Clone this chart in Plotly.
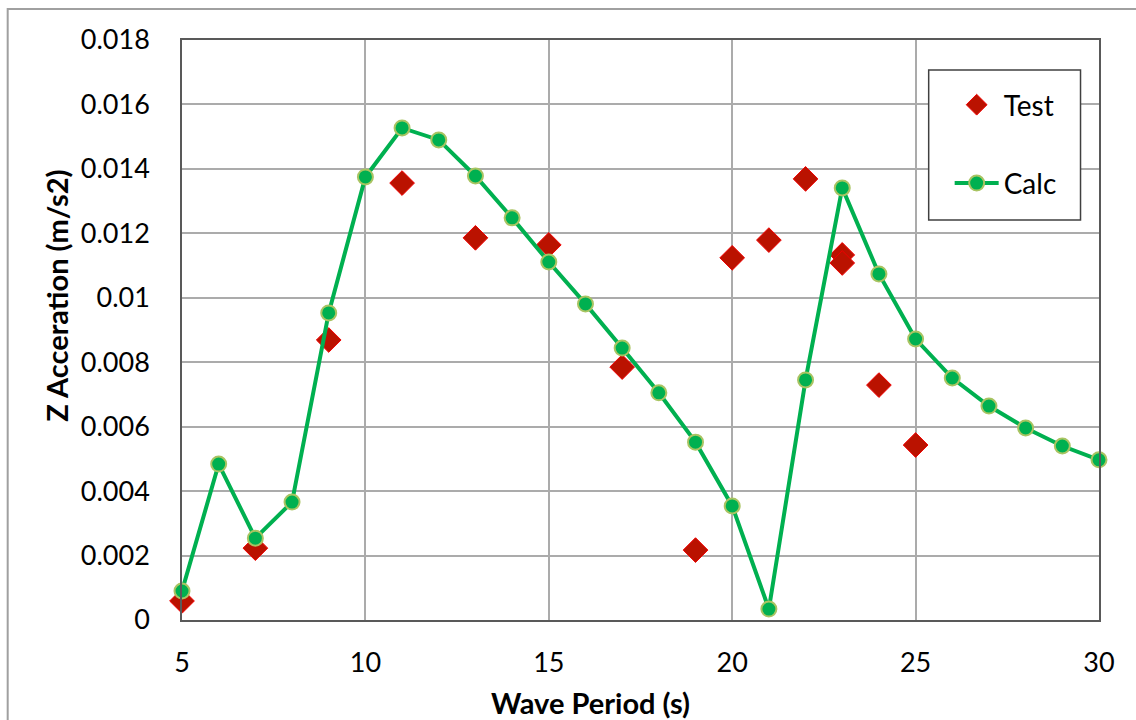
import plotly.graph_objects as go

# Data
calc_period = [5, 6, 7, 8, 9, 10, 11, 12, 13, 14, 15, 16, 17, 18, 19, 20,
               21, 22, 23, 24, 25, 26, 27, 28, 29, 30]
calc_accel = [0.0009, 0.00484, 0.00254, 0.00366, 0.00953, 0.01375, 0.01527,
              0.0149, 0.01378, 0.01248, 0.01111, 0.00981, 0.00844, 0.00705,
              0.00552, 0.00354, 0.00034, 0.00745, 0.01341, 0.01074, 0.00872,
              0.00751, 0.00664, 0.00596, 0.0054, 0.00497]

test_period = [5, 7, 9, 11, 13, 15, 17, 19, 20, 21, 22, 23, 23, 24, 25]
test_accel = [0.00059, 0.00223, 0.00869, 0.01356, 0.01186, 0.01164, 0.00785,
              0.00217, 0.01124, 0.01179, 0.01369, 0.01133, 0.01108, 0.00729,
              0.00543]

y_ticks = [0, 0.002, 0.004, 0.006, 0.008, 0.01, 0.012, 0.014, 0.016, 0.018]
y_tick_labels = ["0", "0.002", "0.004", "0.006", "0.008", "0.01", "0.012",
                 "0.014", "0.016", "0.018"]
x_ticks = [5, 10, 15, 20, 25, 30]

x_title = "Wave Period (s)"
y_title = "Z Acceration (m/s2)"

FONT = "Lato, 'Open Sans', sans-serif"

# plot area in pixels
L, R, T, B = 181.5, 1099.5, 40, 620
PW, PH = R - L, B - T


def px(x):
    return (x - L) / PW


def py(y):
    return (B - y) / PH


fig = go.Figure()

fig.add_trace(go.Scatter(
    x=test_period, y=test_accel, mode="markers", name="Test",
    legendgroup="a", cliponaxis=False,
    marker=dict(symbol="diamond", size=19, color="#BA1200",
                line=dict(color="#F00000", width=1)),
))
fig.add_trace(go.Scatter(
    x=calc_period, y=calc_accel, mode="lines+markers", name="Calc",
    legendgroup="b", cliponaxis=False,
    line=dict(color="#00B050", width=4),
    marker=dict(symbol="circle", size=15, color="#00B050",
                line=dict(color="#A9C462", width=2)),
))

fig.update_layout(
    width=1136, height=720,
    margin=dict(l=L, r=1136 - R, t=T, b=720 - B, autoexpand=False),
    paper_bgcolor="white", plot_bgcolor="white",
    font=dict(family=FONT, size=27, color="#000000"),
    showlegend=True,
    legend=dict(
        x=px(950), y=py(80),
        xanchor="left", yanchor="top",
        bgcolor="rgba(0,0,0,0)", borderwidth=0,
        font=dict(family=FONT, size=28),
        tracegroupgap=39, traceorder="grouped",
        itemwidth=44,
    ),
    xaxis=dict(
        range=[5, 30], tickmode="array", tickvals=x_ticks,
        showgrid=True, gridcolor="#ABABAB", gridwidth=1.5,
        showline=True, linecolor="#595959", linewidth=1.5, mirror=True,
        zeroline=False, ticks="", ticklabelstandoff=18,
        tickfont=dict(family=FONT, size=27),
    ),
    yaxis=dict(
        range=[0, 0.018], tickmode="array", tickvals=y_ticks,
        ticktext=y_tick_labels,
        showgrid=True, gridcolor="#ABABAB", gridwidth=1.5,
        showline=True, linecolor="#595959", linewidth=1.5, mirror=True,
        zeroline=False, ticks="", ticklabelstandoff=25,
        tickfont=dict(family=FONT, size=27),
    ),
    annotations=[
        dict(text="<b>%s</b>" % x_title, xref="paper", yref="paper",
             x=px(590), y=py(702), xanchor="center", yanchor="middle",
             showarrow=False, font=dict(family=FONT, size=29)),
        dict(text="<b>%s</b>" % y_title, xref="paper", yref="paper",
             x=px(55), y=py(296), xanchor="center", yanchor="middle",
             textangle=-90, showarrow=False,
             font=dict(family=FONT, size=29)),
    ],
    shapes=[
        dict(type="rect", xref="paper", yref="paper",
             x0=px(7), x1=px(1150), y0=py(740), y1=py(9),
             line=dict(color="#A0A0A0", width=2), layer="below"),
        dict(type="rect", xref="paper", yref="paper",
             x0=px(929), x1=px(1081), y0=py(220), y1=py(70),
             fillcolor="white", line=dict(color="#404040", width=1.5),
             layer="above"),
    ],
)

fig.write_html("out.html")
